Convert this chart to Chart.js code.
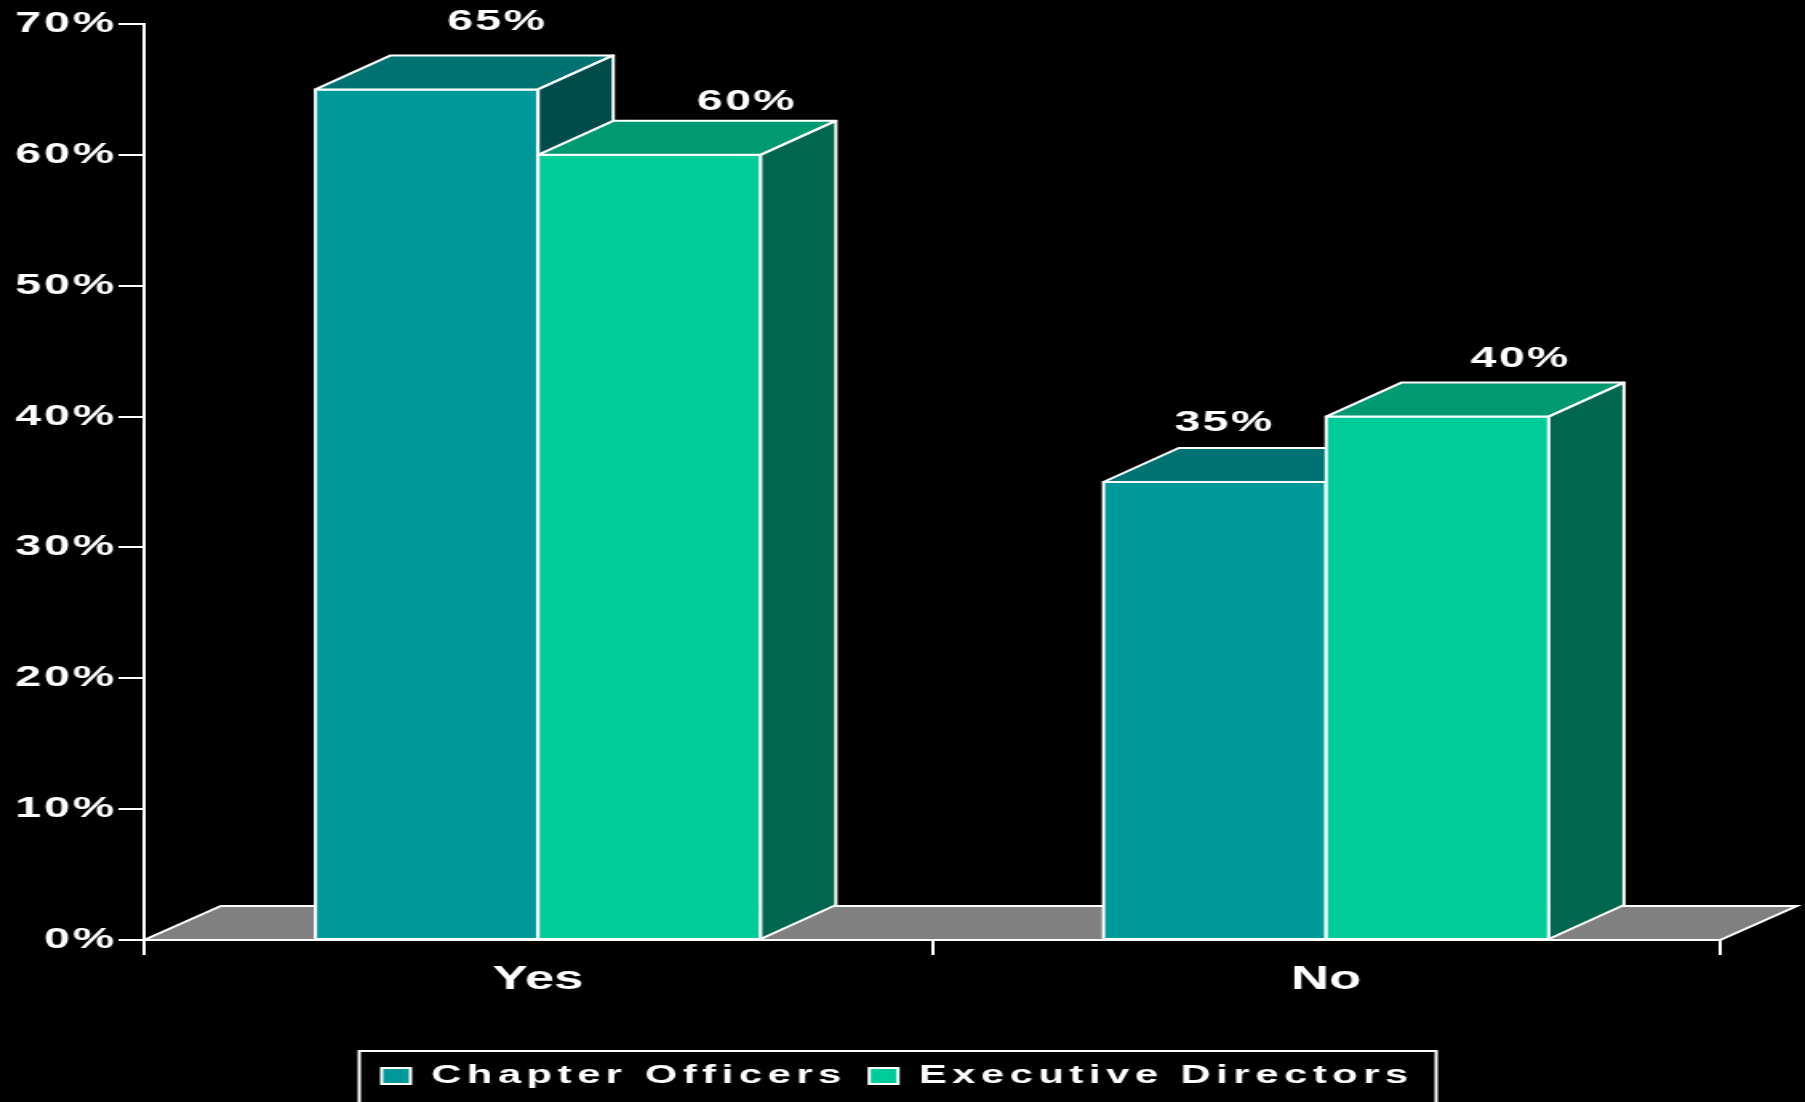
<!DOCTYPE html>
<html>
<head>
<meta charset="utf-8">
<title>Chapter Officers / Executive Directors</title>
<script src="https://cdn.jsdelivr.net/npm/chart.js@4/dist/chart.umd.min.js"></script>
<style>
  html, body { margin: 0; padding: 0; background: #000; overflow: hidden; }
  /* canvas is drawn narrow and stretched wide, like the original slide */
  #graph { display: block; width: 1805px !important; height: 1102px !important; }
</style>
</head>
<body>
<canvas id="graph" width="1128" height="1102" style="width:1805px;height:1102px"></canvas>
<script>
//--- data
const categories = ['Yes', 'No'];
const seriesNames = ['Chapter Officers', 'Executive Directors'];
const chapterOfficers = [65, 35];
const executiveDirectors = [60, 40];
const yTicks = [0, 10, 20, 30, 40, 50, 60, 70];

//--- look
const FONT = "'Liberation Sans', Arial, sans-serif";
const frontColors = ['#009999', '#00cc99'];
const topColors = ['#007272', '#009972'];
const sideColors = ['#004c4c', '#00664d'];
const DX = 47, DY = -34, FLOOR_DX = 48;
// label nudges (per series, per category)
const labelShiftX = [[-3, -41], [14, 5]];
const labelLift = [[25, 17], [11, 16]];

// run a draw/fit method with canvas letter spacing
function spaced(obj, name, ls) {
    if (obj['_sp_' + name]) return;
    const orig = obj[name];
    obj[name] = function () {
        const ctx = this.ctx;
        const prev = ctx.letterSpacing;
        ctx.letterSpacing = ls;
        const r = orig.apply(this, arguments);
        ctx.letterSpacing = prev;
        return r;
    };
    obj['_sp_' + name] = true;
}

function face(ctx, pts, color) {
    ctx.beginPath();
    ctx.moveTo(pts[0][0], pts[0][1]);
    for (let i = 1; i < pts.length; i++) ctx.lineTo(pts[i][0], pts[i][1]);
    ctx.closePath();
    ctx.fillStyle = color;
    ctx.fill();
    ctx.stroke();
}

const box3d = {
    id: 'box3d',
    beforeLayout(chart) {
        spaced(chart.legend, 'fit', '3.5px');
        spaced(chart.legend, 'draw', '3.5px');
        spaced(chart.scales.y, 'drawLabels', '1.8px');
    },
    afterLayout(chart) {
        // centre the legend a little right of the plot, as on the slide
        chart.legend.left = 47;
    },
    beforeDatasetsDraw(chart) {
        const {ctx, chartArea: a} = chart;
        ctx.save();
        ctx.strokeStyle = '#fff';
        ctx.lineWidth = 2;
        face(ctx, [[a.left, a.bottom], [a.left + FLOOR_DX, a.bottom + DY],
                   [a.right + FLOOR_DX, a.bottom + DY], [a.right, a.bottom]], '#808080');
        ctx.restore();
    },
    afterDatasetsDraw(chart) {
        const ctx = chart.ctx;
        ctx.save();
        ctx.strokeStyle = '#fff';
        ctx.lineWidth = 2;
        ctx.lineJoin = 'round';
        chart.data.datasets.forEach(function (ds, i) {
            chart.getDatasetMeta(i).data.forEach(function (bar) {
                const p = bar.getProps(['x', 'y', 'base', 'width'], true);
                const l = p.x - p.width / 2, r = p.x + p.width / 2;
                face(ctx, [[l, p.y], [r, p.y], [r, p.base], [l, p.base]], frontColors[i]);
                face(ctx, [[l, p.y], [l + DX, p.y + DY], [r + DX, p.y + DY], [r, p.y]], topColors[i]);
                face(ctx, [[r, p.y], [r + DX, p.y + DY], [r + DX, p.base + DY], [r, p.base]], sideColors[i]);
            });
        });
        // value labels
        ctx.fillStyle = '#fff';
        ctx.font = 'bold 29px ' + FONT;
        ctx.textAlign = 'center';
        ctx.textBaseline = 'alphabetic';
        ctx.letterSpacing = '1.5px';
        chart.data.datasets.forEach(function (ds, i) {
            chart.getDatasetMeta(i).data.forEach(function (bar, j) {
                const p = bar.getProps(['x', 'y'], true);
                ctx.fillText(ds.data[j] + '%', p.x + DX + labelShiftX[i][j], p.y + DY - labelLift[i][j]);
            });
        });
        ctx.restore();
    },
    afterDraw(chart) {
        const hb = chart.legend.legendHitBoxes;
        if (!hb || !hb.length) return;
        const last = hb[hb.length - 1];
        const l = hb[0].left - 14, r = last.left + last.width + 14, t = hb[0].top - 12;
        const ctx = chart.ctx;
        ctx.save();
        ctx.strokeStyle = '#fff';
        ctx.lineWidth = 2;
        ctx.strokeRect(l, t, r - l, chart.height - t + 10);
        ctx.restore();
    }
};

Chart.defaults.color = '#fff';
Chart.defaults.font.family = FONT;
Chart.defaults.font.weight = 'bold';

new Chart(document.getElementById('graph'), {
    type: 'bar',
    data: {
        labels: categories,
        datasets: [{
            label: seriesNames[0],
            data: chapterOfficers,
            backgroundColor: frontColors[0],
            borderColor: '#fff',
            borderWidth: 2
        }, {
            label: seriesNames[1],
            data: executiveDirectors,
            backgroundColor: frontColors[1],
            borderColor: '#fff',
            borderWidth: 2
        }]
    },
    options: {
        responsive: false,
        devicePixelRatio: 1,
        animation: false,
        events: [],
        layout: { padding: { left: 0, right: 53, top: 24, bottom: 3 } },
        datasets: { bar: { categoryPercentage: 0.565, barPercentage: 1 } },
        plugins: {
            tooltip: { enabled: false },
            legend: {
                position: 'bottom',
                labels: {
                    color: '#fff',
                    font: { size: 26, weight: 'bold' },
                    boxWidth: 18,
                    boxHeight: 16,
                    padding: 14
                }
            }
        },
        scales: {
            x: {
                grid: { drawOnChartArea: false, color: '#fff', tickLength: 15, lineWidth: 2 },
                border: { color: '#fff', width: 2 },
                ticks: { color: '#fff', font: { size: 33, weight: 'bold' }, padding: 5, maxRotation: 0 },
                afterFit: function (s) { s.height = 109; }
            },
            y: {
                min: yTicks[0],
                max: yTicks[yTicks.length - 1],
                afterBuildTicks: function (s) { s.ticks = yTicks.map(v => ({ value: v })); },
                grid: { drawOnChartArea: false, color: '#fff', tickLength: 16, lineWidth: 2 },
                border: { color: '#fff', width: 2 },
                ticks: {
                    color: '#fff',
                    font: { size: 29, weight: 'bold' },
                    padding: 1,
                    callback: v => v + '%'
                },
                afterFit: function (s) { s.width = 90; }
            }
        }
    },
    plugins: [box3d]
});
</script>
</body>
</html>
